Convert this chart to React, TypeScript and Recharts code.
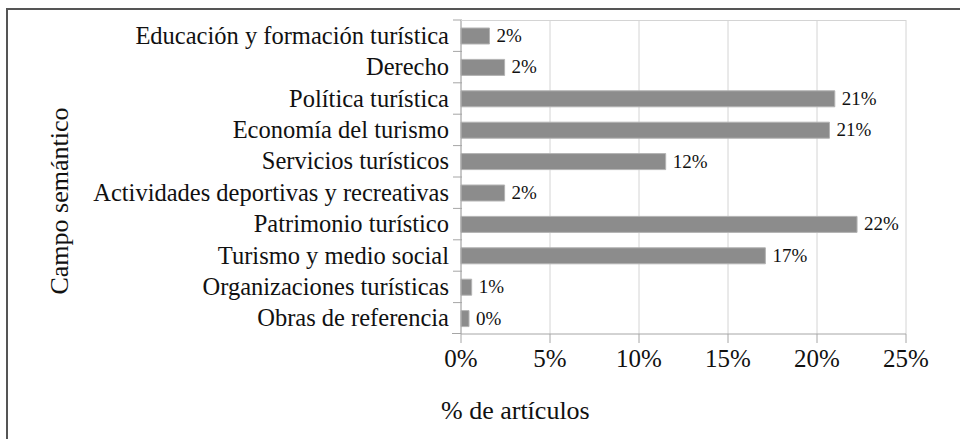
import { BarChart, Bar, XAxis, YAxis, CartesianGrid, LabelList } from 'recharts'

const categories = [
  'Educación y formación turística',
  'Derecho',
  'Política turística',
  'Economía del turismo',
  'Servicios turísticos',
  'Actividades deportivas y recreativas',
  'Patrimonio turístico',
  'Turismo y medio social',
  'Organizaciones turísticas',
  'Obras de referencia',
]
const shares = [1.6, 2.45, 21.0, 20.7, 11.5, 2.45, 22.25, 17.1, 0.6, 0.45]
const xTicks = [0, 5, 10, 15, 20, 25]

const data = categories.map((name, i) => ({ name, value: shares[i] }))

const FONT = '"Liberation Serif", "Times New Roman", serif'
const TOP = 20
const AXIS_H = 105
const HEIGHT = 439
const BAND = (HEIGHT - TOP - AXIS_H) / categories.length

function CategoryTick(props: any) {
  const { x, y, payload } = props
  return (
    <g>
      <line x1={x} x2={x + 9} y1={y - BAND / 2} y2={y - BAND / 2} stroke="#a6a6a6" />
      <text x={x - 4} y={y} dy={8} textAnchor="end" fontSize={24.5} fill="#111" fontFamily={FONT}>
        {payload.value}
      </text>
    </g>
  )
}

function ValueLabel(props: any) {
  const { x, y, width, height, value } = props
  return (
    <text x={x + width + 7} y={y + height / 2} dy={6} fontSize={19} fill="#111" fontFamily={FONT}>
      {`${Math.round(Number(value))}%`}
    </text>
  )
}

export default function App() {
  return (
    <div style={{ position: 'absolute', left: 0, top: 0, width: 960, height: 439, overflow: 'hidden', background: '#fff', fontFamily: FONT }}>
      <div style={{ position: 'absolute', left: 6, top: 8, width: 1000, height: 500, border: '2px solid #555', boxSizing: 'border-box' }} />
      <BarChart
        width={960}
        height={HEIGHT}
        data={data}
        layout="vertical"
        margin={{ top: TOP, right: 54, bottom: 0, left: 0 }}
        barSize={16}
        style={{ position: 'absolute', left: 0, top: 0, fontFamily: FONT }}
      >
        <CartesianGrid horizontal={false} stroke="#d4d4d4" />
        <XAxis
          type="number"
          domain={[0, 25]}
          ticks={xTicks}
          tickFormatter={(v: number) => `${v}%`}
          stroke="#a6a6a6"
          tickSize={9}
          tick={{ fontSize: 25, fill: '#111', fontFamily: FONT }}
          tickMargin={6}
          height={AXIS_H}
        />
        <YAxis
          type="category"
          dataKey="name"
          width={461}
          stroke="#a6a6a6"
          tickLine={false}
          tick={<CategoryTick />}
          interval={0}
        />
        <Bar dataKey="value" fill="#8c8c8c" stroke="#b3b3b3" strokeWidth={1} isAnimationActive={false}>
          <LabelList dataKey="value" content={<ValueLabel />} />
        </Bar>
      </BarChart>
      <div style={{ position: 'absolute', left: 461, top: 20, width: 445, height: 1, background: '#d4d4d4' }} />
      <div style={{ position: 'absolute', left: 452, top: 333, width: 9, height: 1, background: '#a6a6a6' }} />
      <div style={{ position: 'absolute', left: 441, top: 396, fontSize: 26, color: '#111', whiteSpace: 'nowrap', lineHeight: '30px' }}>
        % de artículos
      </div>
      <div
        style={{
          position: 'absolute',
          left: 60,
          top: 201,
          fontSize: 26,
          color: '#111',
          whiteSpace: 'nowrap',
          lineHeight: '30px',
          transform: 'translate(-50%, -50%) rotate(-90deg)',
        }}
      >
        Campo semántico
      </div>
    </div>
  )
}
